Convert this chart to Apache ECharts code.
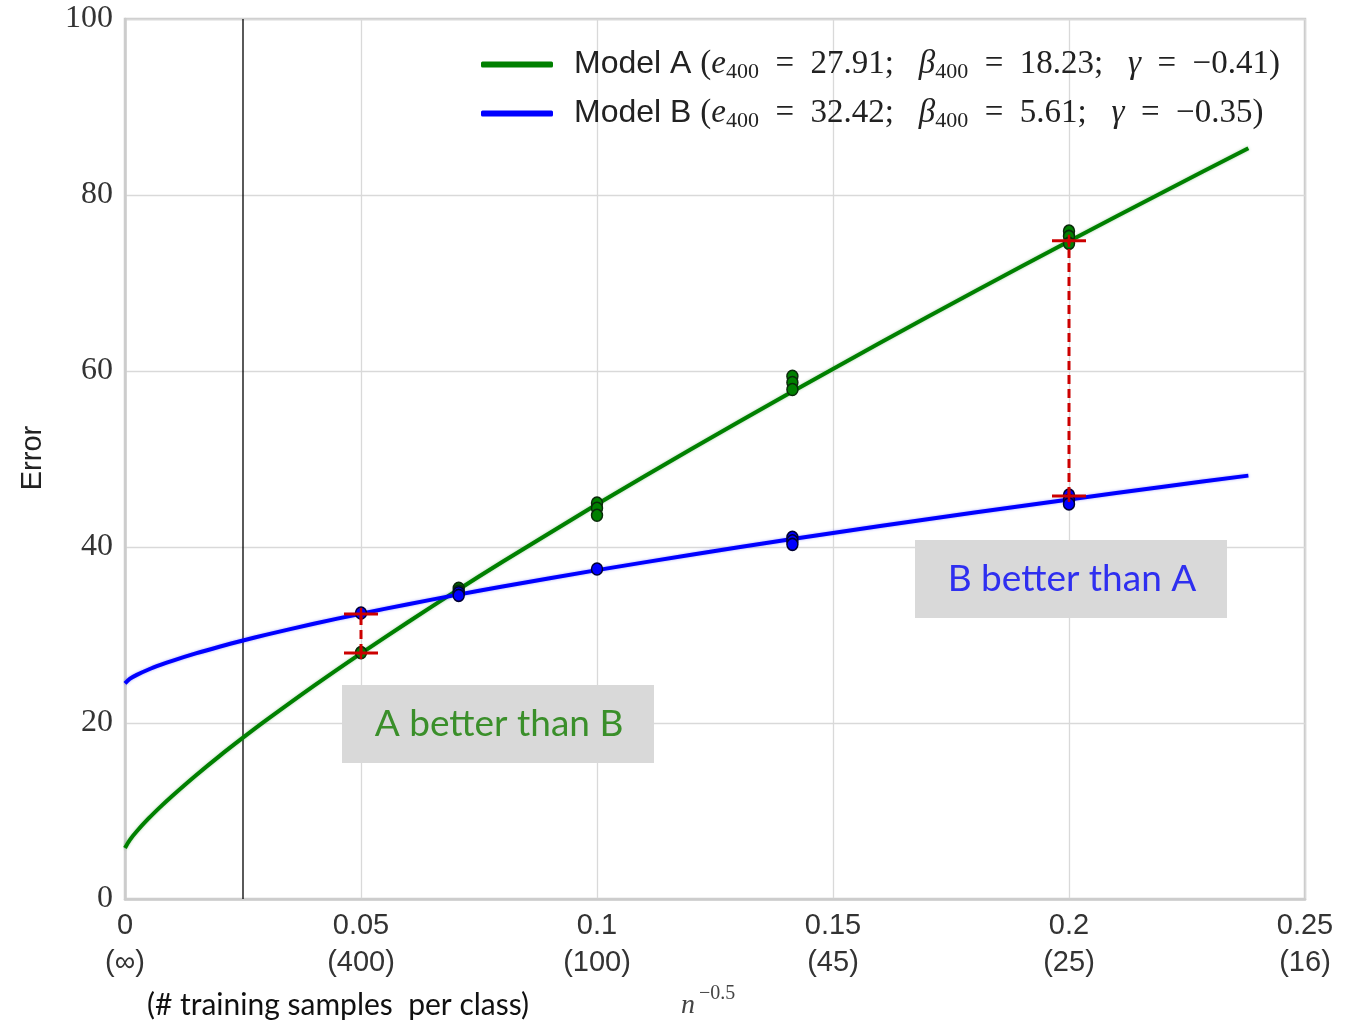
<!DOCTYPE html>
<html><head><meta charset="utf-8">
<script src="https://cdn.jsdelivr.net/npm/echarts@6/dist/echarts.min.js"></script>
<style>html,body{margin:0;padding:0;background:#fff}#c{width:1363px;height:1024px}</style>
</head><body><div id="c"></div>
<script>
// ---- data ----
const xTickLabels = ['0\n(∞)', '0.05\n(400)', '0.1\n(100)', '0.15\n(45)', '0.2\n(25)', '0.25\n(16)'];
const seriesNames = ['Model A', 'Model B'];
const e400Vals = ['27.91', '32.42'];
const beta400Vals = ['18.23', '5.61'];
const gammaVals = ['−0.41', '−0.35'];

const curveX = [0, 0.001, 0.0025, 0.005, 0.0075, 0.01, 0.015, 0.02, 0.025, 0.03, 0.04, 0.05, 0.06, 0.07, 0.08, 0.1, 0.12, 0.14, 0.16, 0.18, 0.2, 0.22, 0.238];
const curveA = [5.8, 6.70, 7.70, 9.15, 10.47, 11.71, 14.04, 16.24, 18.33, 20.35, 24.22, 27.92, 31.48, 34.95, 38.32, 44.85, 51.14, 57.25, 63.21, 69.04, 74.74, 80.34, 85.32];
const curveB = [24.5, 25.01, 25.47, 26.08, 26.60, 27.07, 27.91, 28.67, 29.38, 30.04, 31.28, 32.42, 33.50, 34.53, 35.51, 37.37, 39.12, 40.79, 42.38, 43.92, 45.40, 46.85, 48.11];

const pointsA = [[0.05, 28.0], [0.0707, 35.3], [0.0707, 35.0], [0.1, 45.0], [0.1, 44.4], [0.1, 43.6], [0.1414, 59.4], [0.1414, 58.7], [0.1414, 57.9], [0.2, 75.9], [0.2, 75.3], [0.2, 74.5]];
const pointsB = [[0.05, 32.5], [0.0707, 34.8], [0.0707, 34.5], [0.1, 37.5], [0.1414, 41.1], [0.1414, 40.7], [0.1414, 40.3], [0.2, 45.9], [0.2, 45.3], [0.2, 44.9]];

const gapBars = [[0.05, 27.95, 32.4], [0.2, 45.8, 74.8]];
const refLineX = 0.025;
const refLineY = [0, 100];
const boxTexts = ['A better than B', 'B better than A'];

// ---- chart ----
const colA = '#008000', colB = '#0000ff', colRed = '#cc0000';
const chart = echarts.init(document.getElementById('c'));

function renderGap(params, api) {
  const x = api.value(0), lo = api.value(1), hi = api.value(2);
  const pLo = api.coord([x, lo]), pHi = api.coord([x, hi]);
  const hw = 17;
  const st = { stroke: colRed, lineWidth: 3 };
  return {
    type: 'group',
    children: [
      { type: 'line', shape: { x1: pLo[0], y1: pLo[1], x2: pHi[0], y2: pHi[1] }, style: { stroke: colRed, lineWidth: 3, lineDash: [9, 5] } },
      { type: 'line', shape: { x1: pLo[0] - hw, y1: pLo[1], x2: pLo[0] + hw, y2: pLo[1] }, style: st },
      { type: 'line', shape: { x1: pHi[0] - hw, y1: pHi[1], x2: pHi[0] + hw, y2: pHi[1] }, style: st },
      { type: 'line', shape: { x1: pLo[0], y1: pLo[1] - 6, x2: pLo[0], y2: pLo[1] + 6 }, style: { stroke: colRed, lineWidth: 2.5 } },
      { type: 'line', shape: { x1: pHi[0], y1: pHi[1] - 6, x2: pHi[0], y2: pHi[1] + 6 }, style: { stroke: colRed, lineWidth: 2.5 } }
    ]
  };
}

const SP = '\u2002';
function legendText(name) {
  const i = seriesNames.indexOf(name);
  return '{s|' + name + ' }{m|(}{i|e}{sub|400}{m|' + SP + '=' + SP + e400Vals[i] + '; ' + SP + '}{i|β}{sub|400}{m|' + SP + '=' + SP + beta400Vals[i] + '; ' + SP + '}{i|γ}{m|' + SP + '=' + SP + gammaVals[i] + ')}';
}

const option = {
  animation: false,
  backgroundColor: '#ffffff',
  grid: { left: 125, right: 58, top: 19, bottom: 125, show: true, borderColor: '#cccccc', borderWidth: 2.5 },
  xAxis: {
    type: 'value', min: 0, max: 0.25, interval: 0.05,
    axisLine: { show: true, lineStyle: { color: '#cccccc', width: 2.5 } },
    axisTick: { show: false },
    splitLine: { show: true, lineStyle: { color: '#d9d9d9', width: 1.3 } },
    axisLabel: {
      margin: 8,
      formatter: (v, idx) => xTickLabels[idx],
      fontFamily: 'Liberation Sans', fontSize: 29, lineHeight: 37, color: '#333333'
    }
  },
  yAxis: {
    type: 'value', min: 0, max: 100, interval: 20,
    axisLine: { show: true, lineStyle: { color: '#cccccc', width: 2.5 } },
    axisTick: { show: false },
    splitLine: { show: true, lineStyle: { color: '#d9d9d9', width: 1.3 } },
    axisLabel: { margin: 12, fontFamily: 'Liberation Serif', fontSize: 32, color: '#333333' }
  },
  legend: {
    data: seriesNames,
    orient: 'vertical',
    left: 476, top: 43,
    itemWidth: 72, itemHeight: 6, itemGap: 14,
    icon: 'roundRect',
    formatter: legendText,
    textStyle: {
      padding: [0, 0, 0, 16],
      rich: {
        s: { fontFamily: 'Liberation Sans', fontSize: 32, color: '#222222' },
        m: { fontFamily: 'Liberation Serif', fontSize: 33, color: '#222222' },
        i: { fontFamily: 'Liberation Serif', fontStyle: 'italic', fontSize: 33, color: '#222222' },
        sub: { fontFamily: 'Liberation Serif', fontSize: 22, color: '#222222', padding: [15, 0, 0, 0] }
      }
    }
  },
  series: [
    {
      name: seriesNames[0], type: 'line', smooth: 0.25, showSymbol: false, z: 2,
      data: curveX.map((x, i) => [x, curveA[i]]),
      lineStyle: { color: colA, width: 4, shadowColor: 'rgba(0,128,0,0.35)', shadowBlur: 3 },
      itemStyle: { color: colA }
    },
    {
      name: seriesNames[1], type: 'line', smooth: 0.25, showSymbol: false, z: 2,
      data: curveX.map((x, i) => [x, curveB[i]]),
      lineStyle: { color: colB, width: 4, shadowColor: 'rgba(0,0,255,0.35)', shadowBlur: 3 },
      itemStyle: { color: colB }
    },
    {
      name: 'refLine', type: 'line', showSymbol: false, z: 1, silent: true,
      data: refLineY.map(y => [refLineX, y]),
      lineStyle: { color: '#000000', width: 1.3 }
    },
    {
      name: 'ptsA', type: 'scatter', z: 3, symbolSize: [11, 12], data: pointsA,
      itemStyle: { color: colA, borderColor: '#0a2a0a', borderWidth: 1.5, opacity: 1 }
    },
    {
      name: 'ptsB', type: 'scatter', z: 3, symbolSize: [11, 12], data: pointsB,
      itemStyle: { color: colB, borderColor: '#000033', borderWidth: 1.5, opacity: 1 }
    },
    {
      name: 'gap', type: 'custom', z: 4, renderItem: renderGap,
      encode: { x: 0, y: [1, 2] }, data: gapBars
    }
  ],
  graphic: [
    { type: 'rect', left: 342, top: 685, shape: { width: 312, height: 78 }, style: { fill: '#d9d9d9' }, z: 10 },
    { type: 'text', x: 499, y: 724, z: 11, style: { text: boxTexts[0], fill: '#3a8f2a', font: '37px Lato', align: 'center', verticalAlign: 'middle' } },
    { type: 'rect', left: 915, top: 540, shape: { width: 312, height: 78 }, style: { fill: '#d9d9d9' }, z: 10 },
    { type: 'text', x: 1072, y: 579, z: 11, style: { text: boxTexts[1], fill: '#2f2ff0', font: '37px Lato', align: 'center', verticalAlign: 'middle' } },
    { type: 'text', x: 33, y: 458, rotation: Math.PI / 2, z: 11, style: { text: 'Error', fill: '#222222', font: '29px "Liberation Sans"', align: 'center', verticalAlign: 'middle' } },
    { type: 'text', x: 338, y: 1005, z: 11, style: { text: '(# training samples  per class)', fill: '#111111', font: '30px Lato', align: 'center', verticalAlign: 'middle' } },
    { type: 'text', x: 688, y: 1006, z: 11, style: { text: 'n', fill: '#444444', font: 'italic 28px "Liberation Serif"', align: 'center', verticalAlign: 'middle' } },
    { type: 'text', x: 699, y: 994, z: 11, style: { text: '−0.5', fill: '#444444', font: '20px "Liberation Serif"', align: 'left', verticalAlign: 'middle' } }
  ]
};
chart.setOption(option);
</script>
</body></html>
